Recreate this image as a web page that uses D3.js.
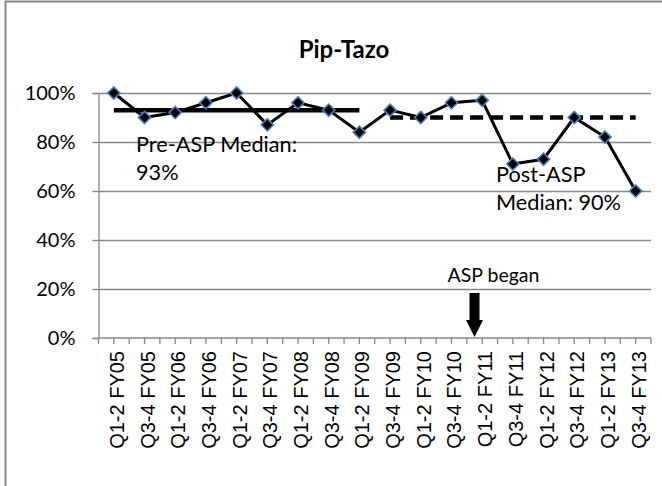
<!DOCTYPE html>
<html>
<head>
<meta charset="utf-8">
<script src="https://cdn.jsdelivr.net/npm/d3@7"></script>
<style>
  html, body { margin: 0; padding: 0; background: #fff; }
  svg { display: block; }
  .tick-label { font-family: 'Liberation Sans', Arial, sans-serif; font-size: 20px; fill: #000; }
  .y-label { font-family: Lato, 'Open Sans', sans-serif; font-size: 20px; fill: #000; }
  .note { font-family: Lato, 'Open Sans', sans-serif; fill: #000; }
</style>
</head>
<body>
<div id="chart"></div>
<script>
const categories = [
  'Q1-2 FY05', 'Q3-4 FY05', 'Q1-2 FY06', 'Q3-4 FY06', 'Q1-2 FY07', 'Q3-4 FY07',
  'Q1-2 FY08', 'Q3-4 FY08', 'Q1-2 FY09', 'Q3-4 FY09', 'Q1-2 FY10', 'Q3-4 FY10',
  'Q1-2 FY11', 'Q3-4 FY11', 'Q1-2 FY12', 'Q3-4 FY12', 'Q1-2 FY13', 'Q3-4 FY13',
]
const values = [100, 90, 92, 96, 100, 87, 96, 93, 84, 93, 90, 96, 97, 71, 73, 90, 82, 60]
const yTicks = [0, 20, 40, 60, 80, 100]

const preMedian = { value: 93, from: 'Q1-2 FY05', to: 'Q1-2 FY09' }
const postMedian = { value: 90, from: 'Q3-4 FY09', to: 'Q3-4 FY13' }
const aspStart = 'Q1-2 FY11'

const W = 662
const H = 486
const GRID = '#878787'
const MARKER_EDGE = '#4a7ebb'

const plot = { left: 98.5, right: 651, top: 93, bottom: 338 }

const svg = d3.select('#chart').append('svg')
  .attr('width', W)
  .attr('height', H)

// chart area border (only top and left edges are visible)
svg.append('rect')
  .attr('x', 5.5).attr('y', 1.5)
  .attr('width', W + 10).attr('height', H + 10)
  .attr('fill', '#fff')
  .attr('stroke', GRID)
  .attr('stroke-width', 2)

const x = d3.scaleBand().domain(categories).range([plot.left, plot.right]).padding(0)
const cx = (c) => x(c) + x.bandwidth() / 2
const y = d3.scaleLinear().domain([0, 100]).range([plot.bottom, plot.top])

svg.append('text')
  .attr('x', 344).attr('y', 58)
  .attr('text-anchor', 'middle')
  .attr('font-family', 'Lato, sans-serif')
  .attr('font-weight', 'bold')
  .attr('font-size', 24)
  .text('Pip-Tazo')

// horizontal gridlines
svg.append('g')
  .selectAll('line')
  .data(yTicks.filter((d) => d > 0))
  .join('line')
  .attr('x1', plot.left).attr('x2', plot.right)
  .attr('y1', (d) => Math.round(y(d)) + 0.5).attr('y2', (d) => Math.round(y(d)) + 0.5)
  .attr('stroke', GRID)
  .attr('stroke-width', 1.3)

// y axis
const yAxis = svg.append('g')
  .attr('transform', `translate(${plot.left},0)`)
  .call(d3.axisLeft(y).tickValues(yTicks).tickSize(6).tickPadding(17).tickFormat((d) => `${d}%`))
yAxis.select('.domain').attr('stroke', GRID).attr('stroke-width', 1.3)
yAxis.selectAll('.tick line').attr('stroke', GRID).attr('stroke-width', 1.3)
yAxis.selectAll('.tick text').attr('class', 'y-label').attr('font-size', null).attr('font-family', null)

// x axis: ticks at category edges and centres
const xTickPos = []
categories.forEach((c) => { xTickPos.push(x(c)); xTickPos.push(cx(c)) })
xTickPos.push(plot.right)

const xAxis = svg.append('g')
svg.append('line')
  .attr('x1', plot.left).attr('x2', plot.right)
  .attr('y1', y(0)).attr('y2', y(0))
  .attr('stroke', GRID).attr('stroke-width', 1.5)
xAxis.selectAll('line')
  .data(xTickPos)
  .join('line')
  .attr('x1', (d) => d).attr('x2', (d) => d)
  .attr('y1', y(0)).attr('y2', y(0) + 6)
  .attr('stroke', GRID).attr('stroke-width', 1.3)

svg.append('g')
  .selectAll('text')
  .data(categories)
  .join('text')
  .attr('class', 'tick-label')
  .attr('transform', (d) => `translate(${cx(d)},${y(0) + 13}) rotate(-90)`)
  .attr('text-anchor', 'end')
  .attr('dy', '0.5em')
  .text((d) => d)

// median lines
svg.append('line')
  .attr('x1', cx(preMedian.from)).attr('x2', cx(preMedian.to))
  .attr('y1', y(preMedian.value)).attr('y2', y(preMedian.value))
  .attr('stroke', '#000').attr('stroke-width', 4.5)

svg.append('line')
  .attr('x1', cx(postMedian.from)).attr('x2', cx(postMedian.to))
  .attr('y1', y(postMedian.value)).attr('y2', y(postMedian.value))
  .attr('stroke', '#000').attr('stroke-width', 4.5)
  .attr('stroke-dasharray', '13,7')

// series line
const line = d3.line().x((d, i) => cx(categories[i])).y((d) => y(d))
svg.append('path')
  .datum(values)
  .attr('d', line)
  .attr('fill', 'none')
  .attr('stroke', '#000')
  .attr('stroke-width', 3)
  .attr('stroke-linejoin', 'round')

svg.append('g')
  .selectAll('path')
  .data(values)
  .join('path')
  .attr('d', d3.symbol(d3.symbolDiamond2, 95))
  .attr('transform', (d, i) => `translate(${cx(categories[i])},${y(d)})`)
  .attr('fill', '#000')
  .attr('stroke', MARKER_EDGE)
  .attr('stroke-width', 1.6)

// annotations
const pre = svg.append('text').attr('class', 'note').attr('font-size', 21.7)
pre.append('tspan').attr('x', 136).attr('y', 152).text('Pre-ASP Median:')
pre.append('tspan').attr('x', 136).attr('y', 180).text(`${preMedian.value}%`)

const post = svg.append('text').attr('class', 'note').attr('font-size', 21.7)
post.append('tspan').attr('x', 496).attr('y', 182).text('Post-ASP')
post.append('tspan').attr('x', 496).attr('y', 210).text(`Median: ${postMedian.value}%`)

const ax = cx(aspStart) - x.bandwidth() / 4
svg.append('text')
  .attr('class', 'note')
  .attr('font-size', 19.5)
  .attr('x', ax + 19).attr('y', 282)
  .attr('text-anchor', 'middle')
  .text('ASP began')

svg.append('path')
  .attr('d', d3.line()([
    [ax - 5, 293], [ax + 5, 293], [ax + 5, 320], [ax + 8.5, 320],
    [ax, 337], [ax - 8.5, 320], [ax - 5, 320],
  ]))
  .attr('fill', '#000')
</script>
</body>
</html>
